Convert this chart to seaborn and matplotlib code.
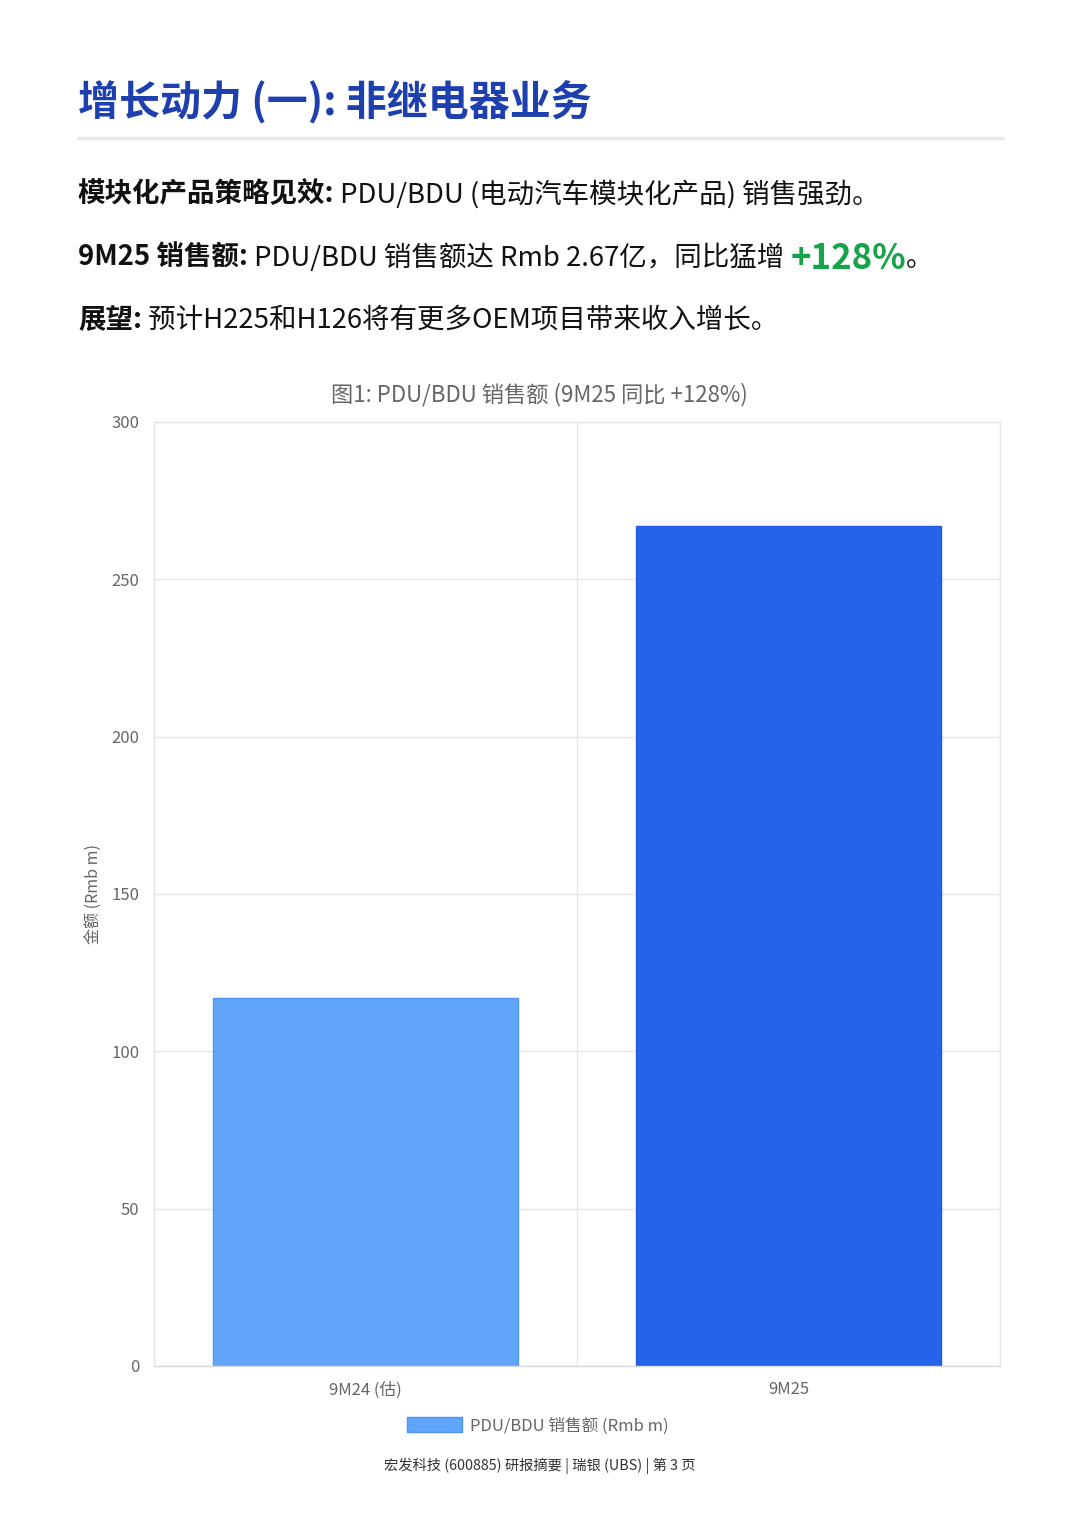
import matplotlib
matplotlib.use("Agg")
import matplotlib.pyplot as plt
import seaborn as sns
import pandas as pd

# ---- data ----
categories = ["9M24 (估)", "9M25"]
sales_values = [117, 267]
bar_colors = ["#60A5FA", "#2563EB"]
y_ticks = [0, 50, 100, 150, 200, 250, 300]
series_label = "PDU/BDU 销售额 (Rmb m)"
chart_title = "图1: PDU/BDU 销售额 (9M25 同比 +128%)"
y_label = "金额 (Rmb m)"
page_title = "增长动力 (一): 非继电器业务"
footer = "宏发科技 (600885) 研报摘要 | 瑞银 (UBS) | 第 3 页"

sns.set_theme(style="white")
plt.rcParams['font.family'] = ['Noto Sans CJK SC', 'DejaVu Sans']

W, H = 1080, 1528
fig = plt.figure(figsize=(W / 100, H / 100), dpi=100)
fig.patch.set_facecolor("white")

ax = fig.add_axes([154 / W, 1 - 1366 / H, (1000 - 154) / W, (1366 - 422) / H])

df = pd.DataFrame({"cat": categories, "val": sales_values})
sns.barplot(data=df, x="cat", y="val", hue="cat", palette=bar_colors,
            width=0.72, ax=ax, legend=False, saturation=1)
edge_colors = ["#4C96F5", "#1F5AE0"]
for p, c in zip(ax.patches, edge_colors):
    p.set_edgecolor(c)
    p.set_linewidth(1)

ax.set_xlim(-0.5, len(categories) - 0.5)
ax.set_ylim(0, 300)
ax.set_yticks(y_ticks)
ax.set_xticks(range(len(categories)))
ax.set_xticklabels(categories)
ax.set_xticks([i - 0.5 for i in range(len(categories) + 1)], minor=True)
ax.grid(True, axis="y", which="major", color="#e6e6e6", lw=1)
ax.grid(True, axis="x", which="minor", color="#e6e6e6", lw=1)
ax.grid(False, axis="x", which="major")
ax.set_axisbelow(True)
for s in ax.spines.values():
    s.set_color("#e6e6e6")
    s.set_linewidth(1)
ax.spines["bottom"].set_color("#d9d9d9")
ax.tick_params(axis="y", which="major", length=6.5, width=1, color="#e6e6e6",
               labelsize=12, labelcolor="#666666", pad=4)
ax.tick_params(axis="x", which="major", length=0, labelsize=12,
               labelcolor="#666666", pad=11)
ax.tick_params(axis="x", which="minor", length=6.5, width=1, color="#e6e6e6")
ax.set_xlabel("")
ax.set_ylabel(y_label, fontsize=11.5, color="#666666", labelpad=6)

ax.legend([ax.patches[0]], [series_label], loc="center",
          bbox_to_anchor=(538 / W, 1 - 1426 / H), bbox_transform=fig.transFigure,
          frameon=False, fontsize=12, labelcolor="#666666", handlelength=3.3,
          handleheight=1.0, handletextpad=0.5)

fig.text(539 / W, 1 - 395 / H, chart_title, fontsize=16, color="#666666",
         ha="center", va="center")

# ---- header ----
fig.text(78 / W, 1 - 103 / H, page_title, fontsize=29.5, fontweight="bold",
         color="#1E40AF", va="center", ha="left")
fig.add_artist(plt.Line2D([78 / W, 1003 / W], [1 - 138 / H, 1 - 138 / H],
                          color="#e8e8e8", lw=2.5))

lines = [
    (191, [("模块化产品策略见效:", "bold", "#111111", 19.8),
           (" PDU/BDU (电动汽车模块化产品) 销售强劲。", "normal", "#111111", 19.8)]),
    (255, [("9M25 销售额:", "bold", "#111111", 19.8),
           (" PDU/BDU 销售额达 Rmb 2.67亿，同比猛增 ", "normal", "#111111", 19.8),
           ("+128%", "bold", "#16A34A", 25),
           ("。", "normal", "#111111", 19.8)]),
    (317, [("展望:", "bold", "#111111", 19.8),
           (" 预计H225和H126将有更多OEM项目带来收入增长。", "normal", "#111111", 19.8)]),
]
fig.canvas.draw()
renderer = fig.canvas.get_renderer()
for ypix, parts in lines:
    x = 78
    for txt, wt, col, fs in parts:
        t = fig.text(x / W, 1 - ypix / H, txt, fontsize=fs, fontweight=wt,
                     color=col, va="center_baseline", ha="left")
        bb = t.get_window_extent(renderer)
        x += bb.width

fig.text(540 / W, 1 - 1466 / H, footer, fontsize=10.3, color="#333333",
         ha="center", va="center")

fig.savefig("out.png", dpi=100, facecolor="white")
